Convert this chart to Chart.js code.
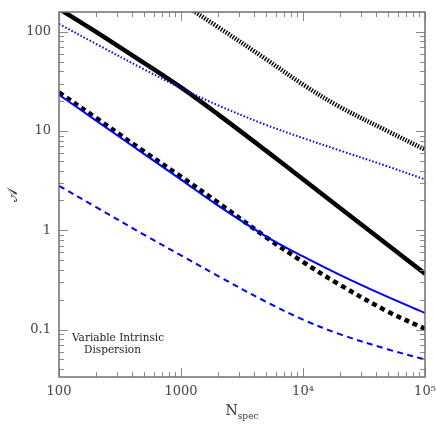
<!DOCTYPE html>
<html>
<head>
<meta charset="utf-8">
<script src="https://cdn.jsdelivr.net/npm/chart.js@4.4.1/dist/chart.umd.min.js"></script>
<style>
html,body{margin:0;padding:0;background:#fff;}
#wrap{width:436px;height:436px;}
</style>
</head>
<body>
<div id="wrap"><canvas id="c" width="436" height="436"></canvas></div>
<script>
// N_spec values (x)
const nSpec = [100, 200, 500, 1000, 2000, 5000, 10000, 20000, 50000, 100000];
// Series (y values)
const blackSolid  = [170, 100, 48.4, 27.5, 14.8, 6.31, 3.27, 1.69, 0.708, 0.366];
const blackDotted = [null, null, null, 195, 112, 52.7, 29.4, 17.5, 9.9, 6.5];
const blackDashed = [24.5, 13.6, 6.2, 3.47, 1.91, 0.85, 0.48, 0.283, 0.151, 0.102];
const blueSolid   = [23.2, 12.8, 5.86, 3.24, 1.78, 0.865, 0.545, 0.356, 0.212, 0.147];
const blueDotted  = [120, 75.7, 41.7, 27.1, 18.2, 11.5, 8.5, 6.37, 4.38, 3.25];
const blueDashed  = [2.81, 1.72, 0.90, 0.559, 0.348, 0.19, 0.126, 0.090, 0.063, 0.050];
// Tick labels
const xTickLabels = {100: '100', 1000: '1000', 10000: '10\u2074', 100000: '10\u2075'};
const yTickLabels = {0.1: '0.1', 1: '1', 10: '10', 100: '100'};
const xTitle = 'N';
const xTitleSub = 'spec';
const yTitle = '\uD835\uDC9C';
const noteLines = ['Variable Intrinsic', 'Dispersion'];

const pts = s => nSpec.map((x, i) => ({x: x, y: s[i]}));
const BLUE = '#0000ff';

function mant(v){ const e = Math.floor(Math.log10(v) + 1e-9); return v / Math.pow(10, e); }
function isNice(v){ const m = mant(v); return Math.abs(m - Math.round(m)) < 1e-6; }
function isDecade(v){ const m = mant(v); return Math.abs(m - 1) < 1e-6 || Math.abs(m - 10) < 1e-6; }
function labelFor(map, v){
  for (const k in map){ if (Math.abs(Number(k) - v) / v < 1e-6) return map[k]; }
  return '';
}

const framePlugin = {
  id: 'frame',
  afterDraw(chart){
    const {ctx, chartArea: a, scales} = chart;
    const xs = scales.x, ys = scales.y;
    ctx.save();
    ctx.strokeStyle = '#8a8a8a';
    ctx.lineWidth = 1;
    const seg = (x1, y1, x2, y2) => { ctx.beginPath(); ctx.moveTo(x1, y1); ctx.lineTo(x2, y2); ctx.stroke(); };
    xs.ticks.forEach(t => {
      const v = t.value;
      if (!isNice(v)) return;
      const p = Math.round(xs.getPixelForValue(v)) + 0.5;
      const L = isDecade(v) ? 9 : 5;
      seg(p, a.bottom, p, a.bottom - L);
      seg(p, a.top, p, a.top + L);
    });
    ys.ticks.forEach(t => {
      const v = t.value;
      if (!isNice(v)) return;
      const p = Math.round(ys.getPixelForValue(v)) + 0.5;
      const L = isDecade(v) ? 9 : 5;
      seg(a.left, p, a.left + L, p);
      seg(a.right, p, a.right - L, p);
    });
    ctx.strokeStyle = '#707070';
    ctx.lineWidth = 1.5;
    ctx.strokeRect(a.left, a.top, a.right - a.left, a.bottom - a.top);

    // x title with subscript
    ctx.fillStyle = '#333';
    ctx.textBaseline = 'alphabetic';
    ctx.textAlign = 'left';
    ctx.font = '14px "DejaVu Serif"';
    const wN = ctx.measureText(xTitle).width;
    ctx.font = '9px "DejaVu Serif"';
    const wS = ctx.measureText(xTitleSub).width;
    const x0 = 242 - (wN + wS) / 2;
    ctx.font = '14px "DejaVu Serif"';
    ctx.fillText(xTitle, x0, 415);
    ctx.font = '9px "DejaVu Serif"';
    ctx.fillText(xTitleSub, x0 + wN, 419);

    // y title
    ctx.save();
    ctx.translate(13, 195);
    ctx.rotate(-Math.PI / 2);
    ctx.textAlign = 'center';
    ctx.textBaseline = 'middle';
    ctx.font = '14px "DejaVu Serif", "DejaVu Sans", serif';
    ctx.fillText(yTitle, 0, 0);
    ctx.restore();

    // note
    ctx.fillStyle = '#222';
    ctx.font = '10.5px "DejaVu Serif"';
    ctx.textAlign = 'left';
    ctx.fillText(noteLines[0], 72, 341);
    ctx.fillText(noteLines[1], 84, 353);
    ctx.restore();
  }
};

new Chart(document.getElementById('c'), {
  type: 'line',
  data: {
    datasets: [
      {data: pts(blueDashed),  borderColor: BLUE, borderWidth: 2, borderDash: [6, 4.5]},
      {data: pts(blueSolid),   borderColor: BLUE, borderWidth: 2},
      {data: pts(blueDotted),  borderColor: BLUE, borderWidth: 2, borderDash: [1.5, 2]},
      {data: pts(blackDashed), borderColor: '#000', borderWidth: 4.5, borderDash: [5, 4]},
      {data: pts(blackSolid),  borderColor: '#000', borderWidth: 4.5},
      {data: pts(blackDotted), borderColor: '#000', borderWidth: 4.5, borderDash: [1.4, 1.4]}
    ]
  },
  options: {
    responsive: false,
    animation: false,
    devicePixelRatio: 1,
    layout: {padding: {top: 12, right: 11, left: 0, bottom: 0}},
    plugins: {legend: {display: false}, tooltip: {enabled: false}},
    elements: {
      point: {radius: 0, hoverRadius: 0},
      line: {tension: 0.35, borderCapStyle: 'butt', fill: false}
    },
    datasets: {line: {clip: 0, spanGaps: false}},
    scales: {
      x: {
        type: 'logarithmic',
        min: 100, max: 100000,
        grid: {display: false, drawTicks: false},
        border: {display: false},
        ticks: {
          autoSkip: false, maxRotation: 0, padding: 7,
          color: '#444', font: {family: 'DejaVu Serif', size: 13},
          callback: v => labelFor(xTickLabels, v)
        },
        afterFit: s => { s.height = 59; s.paddingLeft = 0; s.paddingRight = 0; }
      },
      y: {
        type: 'logarithmic',
        min: 0.0333, max: 158,
        grid: {display: false, drawTicks: false},
        border: {display: false},
        ticks: {
          autoSkip: false, padding: 8,
          color: '#444', font: {family: 'DejaVu Serif', size: 13},
          callback: v => labelFor(yTickLabels, v)
        },
        afterFit: s => { s.width = 59; s.paddingTop = 0; s.paddingBottom = 0; }
      }
    }
  },
  plugins: [framePlugin]
});
</script>
</body>
</html>
